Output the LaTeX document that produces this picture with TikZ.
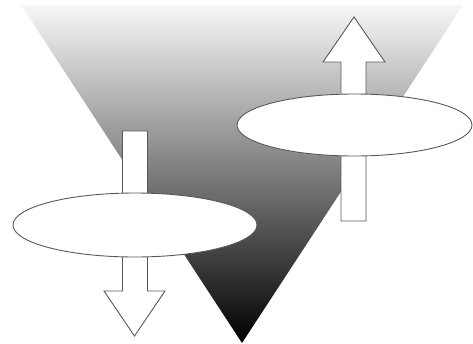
\documentclass[tikz,border=0pt]{standalone}
\usetikzlibrary{shapes.geometric}
\begin{document}
\begin{tikzpicture}[x=1pt,y=-1pt,
  outl/.style={draw=black!65, line width=0.9pt, fill=white, line join=miter},
  disc/.style={draw=black!65, line width=0.9pt, fill=white, ellipse, inner sep=0pt}]
\useasboundingbox (0,0) rectangle (473,343);
% funnel triangle
\coordinate (tl) at (21,5);
\coordinate (tr) at (463,5);
\coordinate (apex) at (242,343);
\shade[top color=black!3, middle color={rgb,255:red,160;green,162;blue,164}, bottom color=black]
  (tl) -- (tr) -- (apex) -- cycle;
% left down arrow
\draw[outl] (122.5,131) -- (147.5,131) -- (147.5,291) -- (165,291) -- (134.5,336)
  -- (104,291) -- (122.5,291) -- cycle;
% left disc
\node[disc, minimum width=244pt, minimum height=64pt] (ldisc) at (135,225) {};
% right up arrow
\draw[outl] (341,221) -- (366,221) -- (366,62) -- (385,62) -- (354,17)
  -- (323,62) -- (341,62) -- cycle;
% right disc
\node[disc, minimum width=235pt, minimum height=62pt] (rdisc) at (354.5,125) {};
\end{tikzpicture}
\end{document}
